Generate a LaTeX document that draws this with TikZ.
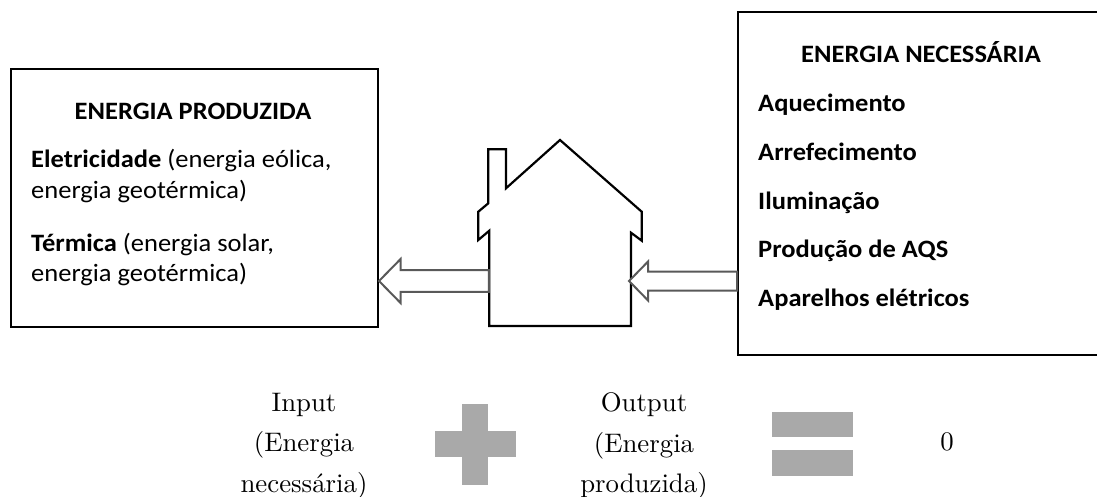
\documentclass[tikz,border=0pt]{standalone}
\usepackage{fontspec}
\setsansfont{Carlito}
\usetikzlibrary{calc,positioning}
\begin{document}
\begin{tikzpicture}[
    x=1pt, y=-1pt,
    box/.style={rectangle, draw, line width=2pt, inner sep=0pt, anchor=north west},
    boxtext/.style={font=\sffamily\fontsize{25}{30}\selectfont, xscale=1.06, anchor=base west, inner sep=0pt},
    boxhead/.style={font=\sffamily\bfseries\fontsize{25}{30}\selectfont, xscale=1.06, anchor=base west, inner sep=0pt},
    caption/.style={font=\fontsize{10}{15}\selectfont, scale=2.68, align=center, inner sep=0pt},
    sign/.style={fill=signgray, draw=none, inner sep=0pt},
    hollowleft/.style={draw=arrowgray, line width=2pt, fill=white, miter limit=10, to path={
        let \p1=(\tikztostart), \p2=(\tikztotarget) in
        (\x1,\y1-10.8pt) -- (\x2+21.6pt,\y1-10.8pt) -- (\x2+21.6pt,\y1-22pt) -- (\x2,\y1)
        -- (\x2+21.6pt,\y1+22pt) -- (\x2+21.6pt,\y1+10.8pt) -- (\x1,\y1+10.8pt) -- cycle}},
    hollowright/.style={draw=arrowgray, line width=2pt, fill=white, miter limit=10, to path={
        let \p1=(\tikztostart), \p2=(\tikztotarget) in
        (\x1,\y1-9.5pt) -- (\x2+19pt,\y1-9.5pt) -- (\x2+19pt,\y1-19.5pt) -- (\x2,\y1)
        -- (\x2+19pt,\y1+19.5pt) -- (\x2+19pt,\y1+9.5pt) -- (\x1,\y1+9.5pt) -- cycle}}
]
\definecolor{arrowgray}{HTML}{595959}
\definecolor{signgray}{HTML}{A9A9A9}
\useasboundingbox (0,0) rectangle (1097,497);

% Blocks
\node [box, minimum width=367pt, minimum height=258pt] (prodbox) at (10,68) {};
\node [box, minimum width=366pt, minimum height=343pt] (needbox) at (737,11) {};

% Text of the blocks
\node [boxhead, anchor=base] (prodtitle) at (193,120) {ENERGIA PRODUZIDA};
\node [boxtext] (prodelec) at (31,168) {\textbf{Eletricidade} (energia eólica,};
\node [boxtext] (prodelecb) at (31,199) {energia geotérmica)};
\node [boxtext] (prodterm) at (31,251) {\textbf{Térmica} (energia solar,};
\node [boxtext] (prodtermb) at (31,281) {energia geotérmica)};

\node [boxhead, anchor=base] (needtitle) at (921,63) {ENERGIA NECESSÁRIA};
\foreach \name/\label/\ypos in {aquec/Aquecimento/112, arref/Arrefecimento/161, ilum/Iluminação/209, agua/Produção de AQS/257, apar/Aparelhos elétricos/306}
    \node [boxhead] (\name) at (758,\ypos) {\label};

% House
\draw [line width=2.2pt, line join=miter] (560,140) -- (641.7,211.7) -- (641.7,240.7) -- (631,232.7) -- (631,326)
    -- (489.3,326) -- (489.3,230.7) -- (478.3,240) -- (478.3,211.7) -- (488.3,203.3) -- (488.3,149.3)
    -- (506,149.3) -- (506,188.3) -- cycle;
\node [inner sep=0pt, minimum width=141.7pt, minimum height=90pt] (house) at (560,281) {};

% Connections
\draw [hollowleft] (house.west) to (prodbox.east |- house.west);
\draw [hollowright] (needbox.west |- house.east) to ([xshift=-2pt]house.east);

% Balance
\node [caption] (input) at (304,446) {Input\\(Energia\\necessária)};
\node [sign, minimum width=81pt, minimum height=26pt] (plusa) at (475,444) {};
\node [sign, minimum width=26pt, minimum height=81pt] (plusb) at (475,444) {};
\node [caption] (output) at (644,446) {Output\\(Energia\\produzida)};
\node [sign, minimum width=81pt, minimum height=25pt] (equala) at (812.5,424.5) {};
\node [sign, minimum width=81pt, minimum height=26pt] (equalb) at (812.5,463) {};
\node [caption] (zero) at (947,442) {0};
\end{tikzpicture}
\end{document}
